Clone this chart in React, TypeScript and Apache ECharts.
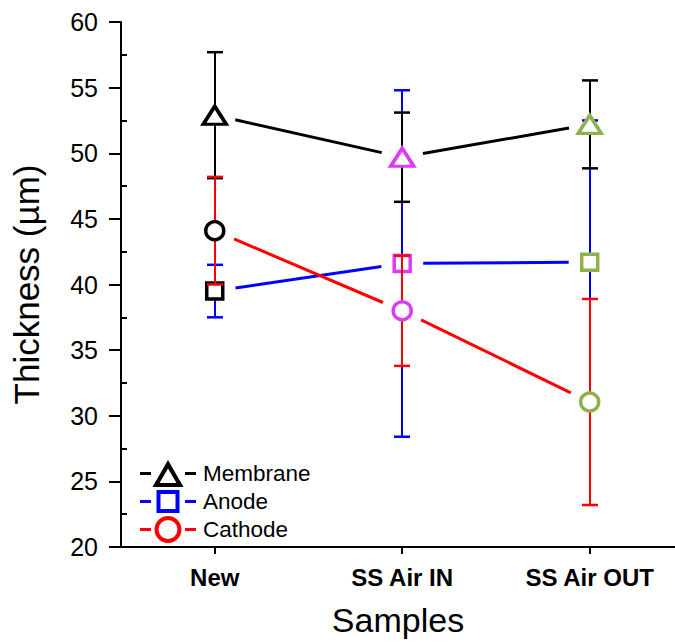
import React, { useEffect, useRef } from 'react';
import * as echarts from 'echarts';

const categories = ['New', 'SS Air IN', 'SS Air OUT'];
const categoryPositions = [0, 1, 2];
const minorTickValues = [22.5, 27.5, 32.5, 37.5, 42.5, 47.5, 52.5, 57.5];

const membrane = [52.9, 49.7, 52.2];
const membraneErr = [4.8, 3.4, 3.35];
const anode = [39.5, 41.6, 41.7];
const anodeErr = [2.0, 13.2, 10.8];
const cathode = [44.1, 38.0, 31.05];
const cathodeErr = [4.1, 4.2, 7.85];

const pointColors = ['#000000', '#DC3CF7', '#8DB24C'];

const FONT = 'Arial, "Liberation Sans", sans-serif';

// legend icons: dash - hollow marker - dash (filled ring shapes)
const dashes = 'M0,12 L11,12 L11,15 L0,15 Z M45,12 L56,12 L56,15 L45,15 Z ';
const triIcon =
  'path://' + dashes +
  'M28,0 L43.5,27 L12.5,27 Z M28,8.5 L19.5,23 L36.5,23 Z';
const squareIcon =
  'path://' + dashes +
  'M16.5,2 L39.5,2 L39.5,25 L16.5,25 Z M20.5,6 L20.5,21 L35.5,21 L35.5,6 Z';
const circleIcon =
  'path://' + dashes +
  'M14.5,13.5 A13.5,13.5 0 1,1 41.5,13.5 A13.5,13.5 0 1,1 14.5,13.5 Z ' +
  'M18.5,13.5 A9.5,9.5 0 1,0 37.5,13.5 A9.5,9.5 0 1,0 18.5,13.5 Z';

type Group = {
  name: string;
  values: number[];
  errs: number[];
  color: string;
  symbol: string;
  symbolSize: number | number[];
  z: number;
};

const groups: Group[] = [
  { name: 'Anode', values: anode, errs: anodeErr, color: '#0000FF', symbol: 'rect', symbolSize: 16, z: 2 },
  { name: 'Membrane', values: membrane, errs: membraneErr, color: '#000000', symbol: 'triangle', symbolSize: [23, 18], z: 3 },
  { name: 'Cathode', values: cathode, errs: cathodeErr, color: '#FF0000', symbol: 'circle', symbolSize: 18, z: 4 },
];

function buildSeries() {
  const series: any[] = [];
  groups.forEach((g) => {
    const segs: number[][] = [];
    for (let i = 0; i < g.values.length - 1; i++) {
      segs.push([categoryPositions[i], g.values[i], categoryPositions[i + 1], g.values[i + 1]]);
    }
    series.push({
      type: 'custom',
      name: g.name + '-line',
      z: g.z,
      silent: true,
      data: segs,
      encode: { x: [0, 2], y: [1, 3] },
      renderItem: (params: any, api: any) => {
        const p0 = api.coord([api.value(0), api.value(1)]);
        const p1 = api.coord([api.value(2), api.value(3)]);
        const dx = p1[0] - p0[0];
        const dy = p1[1] - p0[1];
        const len = Math.sqrt(dx * dx + dy * dy);
        const gap = 21;
        const ux = dx / len;
        const uy = dy / len;
        return {
          type: 'line',
          shape: {
            x1: p0[0] + ux * gap,
            y1: p0[1] + uy * gap,
            x2: p1[0] - ux * gap,
            y2: p1[1] - uy * gap,
          },
          style: { stroke: g.color, lineWidth: 3 },
        };
      },
    });
    series.push({
      type: 'custom',
      name: g.name + '-err',
      z: g.z,
      silent: true,
      data: g.values.map((v, i) => [categoryPositions[i], v, g.errs[i]]),
      encode: { x: 0, y: 1 },
      renderItem: (params: any, api: any) => {
        const x = api.value(0);
        const y = api.value(1);
        const e = api.value(2);
        const top = api.coord([x, y + e]);
        const bot = api.coord([x, y - e]);
        const px = Math.round(top[0]);
        const cap = 8;
        return {
          type: 'group',
          children: [
            { type: 'line', shape: { x1: px, y1: top[1], x2: px, y2: bot[1] }, style: { stroke: g.color, lineWidth: 2 } },
            { type: 'line', shape: { x1: px - cap, y1: top[1], x2: px + cap, y2: top[1] }, style: { stroke: g.color, lineWidth: 2.5 } },
            { type: 'line', shape: { x1: px - cap, y1: bot[1], x2: px + cap, y2: bot[1] }, style: { stroke: g.color, lineWidth: 2.5 } },
          ],
        };
      },
    });
    series.push({
      type: 'line',
      name: g.name,
      z: g.z,
      symbol: g.symbol,
      symbolSize: g.symbolSize,
      showAllSymbol: true,
      lineStyle: { color: g.color, width: 3, opacity: 0 },
      itemStyle: { color: '#ffffff', borderColor: g.color, borderWidth: 3.5, opacity: 1 },
      emphasis: { disabled: true },
      data: g.values.map((v, i) => ({
        value: [categoryPositions[i], v],
        itemStyle: { color: '#ffffff', borderColor: pointColors[i], borderWidth: 3.5 },
      })),
    });
  });
  return series;
}

export default function App() {
  const ref = useRef<HTMLDivElement>(null);
  useEffect(() => {
    if (!ref.current) return;
    const chart = echarts.init(ref.current, undefined, { renderer: 'svg' });
    chart.setOption({
      animation: false,
      backgroundColor: '#ffffff',
      grid: { left: 121, top: 22, right: 0, bottom: 87, containLabel: false },
      legend: {
        orient: 'vertical',
        left: 140,
        top: 460,
        padding: 0,
        itemWidth: 56,
        itemHeight: 27,
        itemGap: 3,
        selectedMode: false,
        symbolKeepAspect: true,
        data: [
          { name: 'Membrane', icon: triIcon, itemStyle: { color: '#000000', borderWidth: 0, borderColor: '#000000' } },
          { name: 'Anode', icon: squareIcon, itemStyle: { color: '#0000FF', borderWidth: 0, borderColor: '#0000FF' } },
          { name: 'Cathode', icon: circleIcon, itemStyle: { color: '#FF0000', borderWidth: 0, borderColor: '#FF0000' } },
        ],
        textStyle: { fontSize: 22.5, fontFamily: FONT, color: '#000', padding: [0, 0, 0, 2] },
      },
      xAxis: {
        type: 'value',
        min: -0.5,
        max: 2.455,
        name: 'Samples',
        nameLocation: 'middle',
        nameGap: 56,
        nameTextStyle: { fontSize: 34, fontFamily: FONT, color: '#000' },
        axisLine: { show: true, onZero: false, lineStyle: { color: '#000', width: 2 } },
        axisTick: { show: true, length: 7, customValues: categoryPositions, lineStyle: { color: '#000', width: 2 } },
        axisLabel: {
          fontSize: 24,
          fontWeight: 'bold',
          fontFamily: FONT,
          color: '#000',
          margin: 18,
          customValues: categoryPositions,
          formatter: (v: number) => categories[Math.round(v)] ?? '',
        },
        splitLine: { show: false },
      },
      yAxis: [
        {
          type: 'value',
          min: 20,
          max: 60,
          interval: 5,
          name: 'Thickness (µm)',
          nameLocation: 'middle',
          nameGap: 77,
          nameTextStyle: { fontSize: 35, fontFamily: FONT, color: '#000' },
          axisLine: { show: true, onZero: false, lineStyle: { color: '#000', width: 2 } },
          axisTick: { show: true, length: 12, lineStyle: { color: '#000', width: 2 } },
          axisLabel: { fontSize: 25, fontFamily: FONT, color: '#000', margin: 23 },
          splitLine: { show: false },
        },
        {
          type: 'value',
          min: 20,
          max: 60,
          position: 'left',
          axisLine: { show: false, onZero: false },
          axisTick: { show: true, inside: true, length: 6, customValues: minorTickValues, lineStyle: { color: '#000', width: 2 } },
          axisLabel: { show: false },
          splitLine: { show: false },
        },
      ],
      series: buildSeries(),
    });
    return () => chart.dispose();
  }, []);
  return <div ref={ref} style={{ position: 'fixed', left: 0, top: 0, width: 675, height: 642 }} />;
}
